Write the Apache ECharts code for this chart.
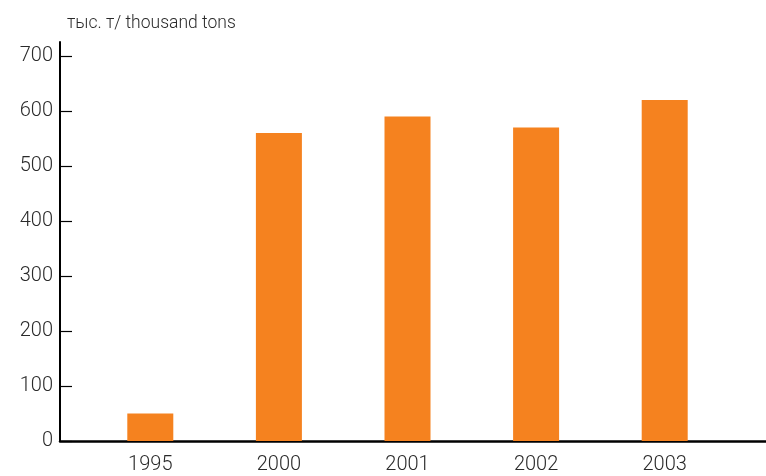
<!DOCTYPE html>
<html><head><meta charset="utf-8">
<script src="https://cdn.jsdelivr.net/npm/echarts@6/dist/echarts.min.js"></script>
<style>html,body{margin:0;padding:0;background:#fff}#c{width:766px;height:476px}</style>
</head><body><div id="c"></div>
<script>
const categories = ['1995', '2000', '2001', '2002', '2003'];
const values = [50, 560, 590, 570, 620];
const yTicks = { min: 0, max: 700, interval: 100 };
const unitLabel = 'тыс. т/ thousand tons';

const font = 'Roboto, "DejaVu Sans", sans-serif';
const chart = echarts.init(document.getElementById('c'));
chart.setOption({
  animation: false,
  title: { text: unitLabel, left: 62, top: 10, textStyle: { fontFamily: font, fontSize: 17.5, fontWeight: 300, color: '#2a2a2a' } },
  grid: [
    { left: 86, right: 37, top: 56, bottom: 35 },
    { left: 60, right: 0, top: 42, bottom: 35 }
  ],
  xAxis: [
    { type: 'category', gridIndex: 0, data: categories,
      axisLine: { show: false }, axisTick: { show: false },
      axisLabel: { fontFamily: font, fontSize: 20, fontWeight: 300, color: '#2a2a2a', margin: 14 } },
    { type: 'value', gridIndex: 1, min: 0, max: 1,
      axisLine: { show: true, lineStyle: { color: '#000', width: 2.5 } },
      axisTick: { show: false }, axisLabel: { show: false }, splitLine: { show: false } }
  ],
  yAxis: [
    { type: 'value', gridIndex: 0, min: yTicks.min, max: yTicks.max, interval: yTicks.interval, offset: 26,
      axisLine: { show: false },
      axisTick: { show: true, inside: true, length: 12, lineStyle: { color: '#000', width: 1.2 } },
      axisLabel: { fontFamily: font, fontSize: 20, fontWeight: 300, color: '#2a2a2a', margin: 7 },
      splitLine: { show: false } },
    { type: 'value', gridIndex: 1, min: 0, max: 1,
      axisLine: { show: true, lineStyle: { color: '#000', width: 2 } },
      axisTick: { show: false }, axisLabel: { show: false }, splitLine: { show: false } }
  ],
  series: [{
    type: 'bar', xAxisIndex: 0, yAxisIndex: 0, data: values, barWidth: 46,
    itemStyle: { color: '#F5821F' }
  }]
});
</script></body></html>
